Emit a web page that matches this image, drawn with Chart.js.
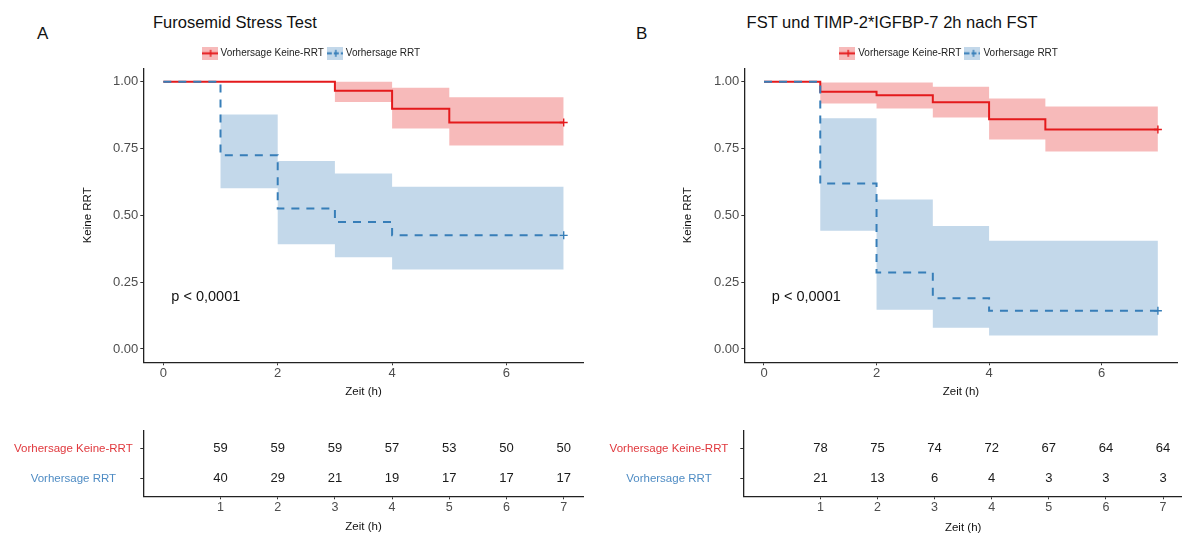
<!DOCTYPE html>
<html><head><meta charset="utf-8">
<script src="https://cdn.jsdelivr.net/npm/chart.js@4.4.1/dist/chart.umd.min.js"></script>
<style>
html,body{margin:0;padding:0;background:#fff;}
body{width:1182px;height:536px;overflow:hidden;position:relative;font-family:"Liberation Sans",Arial,Helvetica,sans-serif;}
canvas{position:absolute;}
.t{position:absolute;white-space:nowrap;color:#111;}
</style></head><body>
<div class="t" style="left:37px;top:24.7px;font-size:17px;line-height:17px">A</div>
<div class="t" style="left:153px;top:13.8px;font-size:16.5px;line-height:16.5px">Furosemid Stress Test</div>
<div class="t" style="left:636px;top:24.7px;font-size:17px;line-height:17px">B</div>
<div class="t" style="left:746.6px;top:13.8px;font-size:16.5px;line-height:16.5px">FST und TIMP-2*IGFBP-7 2h nach FST</div>
<canvas id="kmA" width="562" height="372" style="left:38px;top:36px"></canvas>
<canvas id="kmB" width="545" height="372" style="left:638px;top:36px"></canvas>
<canvas id="rtA" width="600" height="120" style="left:0px;top:416px"></canvas>
<canvas id="rtB" width="583" height="124" style="left:600px;top:412px"></canvas>
<script>
// ---------- data ----------
const xTicksKM = [0, 2, 4, 6];
const yTicksKM = [0, 0.25, 0.5, 0.75, 1];
const legendLabels = ['Vorhersage Keine-RRT', 'Vorhersage RRT'];
const pText = 'p < 0,0001';

// Panel A
const timesKeineA = [0, 3, 4, 5, 7];
const survKeineA  = [1, 0.966, 0.899, 0.847, 0.847];
const upperKeineA = [1, 1, 0.977, 0.942, 0.942];
const lowerKeineA = [1, 0.924, 0.825, 0.761, 0.761];
const timesRRTA = [0, 1, 2, 3, 4, 7];
const survRRTA  = [1, 0.725, 0.525, 0.475, 0.425, 0.425];
const upperRRTA = [1, 0.877, 0.703, 0.656, 0.607, 0.607];
const lowerRRTA = [1, 0.601, 0.392, 0.343, 0.297, 0.297];

// Panel B
const timesKeineB = [0, 1, 2, 3, 4, 5, 7];
const survKeineB  = [1, 0.962, 0.949, 0.923, 0.859, 0.821, 0.821];
const upperKeineB = [1, 0.997, 0.997, 0.981, 0.937, 0.907, 0.907];
const lowerKeineB = [1, 0.918, 0.900, 0.866, 0.784, 0.739, 0.739];
const timesRRTB = [0, 1, 2, 3, 4, 7];
const survRRTB  = [1, 0.619, 0.286, 0.190, 0.143, 0.143];
const upperRRTB = [1, 0.863, 0.559, 0.460, 0.405, 0.405];
const lowerRRTB = [1, 0.442, 0.147, 0.079, 0.050, 0.050];

// Risk tables
const riskTimes = [1, 2, 3, 4, 5, 6, 7];
const riskRowLabels = ['Vorhersage Keine-RRT', 'Vorhersage RRT'];
const riskKeineA = [59, 59, 59, 57, 53, 50, 50];
const riskRRTA   = [40, 29, 21, 19, 17, 17, 17];
const riskKeineB = [78, 75, 74, 72, 67, 64, 64];
const riskRRTB   = [21, 13, 6, 4, 3, 3, 3];

// ---------- styles ----------
const FONT = '"Liberation Sans", Arial, Helvetica, sans-serif';
Chart.defaults.font.family = FONT;
const RED = '#E41A1C', BLUE = '#377EB8';
const RED_BAND = 'rgba(228,26,28,0.3)', BLUE_BAND = 'rgba(55,126,184,0.3)';
const RED_TXT = '#e0383d', BLUE_TXT = '#4f8cc4';

function legendIcon(fill, stroke, dashed) {
  const c = document.createElement('canvas');
  c.width = 16; c.height = 13;
  const g = c.getContext('2d');
  g.fillStyle = fill; g.fillRect(0, 0, 16, 13);
  g.strokeStyle = stroke; g.lineWidth = 2;
  if (dashed) g.setLineDash([5, 2]);
  g.beginPath(); g.moveTo(0, 6.5); g.lineTo(16, 6.5); g.stroke();
  g.setLineDash([]); g.lineWidth = 1.4;
  g.beginPath(); g.moveTo(9, 3); g.lineTo(9, 10); g.stroke();
  return c;
}
const icons = [legendIcon(RED_BAND, RED, false), legendIcon(BLUE_BAND, BLUE, true)];

const pts = (t, v) => t.map((x, i) => ({x, y: v[i]}));
const censor = c => (c.dataIndex === c.dataset.data.length - 1 ? 4 : 0);

function axisLook() {
  return {
    grid: {display: true, drawOnChartArea: false, drawTicks: true, tickLength: 3, color: '#333', lineWidth: 1},
    border: {display: true, color: '#222', width: 1.3}
  };
}

const legendShift = {
  id: 'legendShift',
  afterLayout(chart, args, o) {
    if (chart.legend && o && o.dx) { chart.legend.left += o.dx; chart.legend.right += o.dx; }
  }
};
const pLabel = {
  id: 'pLabel',
  afterDatasetsDraw(chart, args, o) {
    if (!o || !o.text) return;
    const {ctx, scales: {x, y}} = chart;
    ctx.save();
    ctx.font = o.size + 'px ' + FONT;
    ctx.fillStyle = '#111'; ctx.textAlign = 'left'; ctx.textBaseline = 'middle';
    ctx.fillText(o.text, x.getPixelForValue(o.x), y.getPixelForValue(o.y));
    ctx.restore();
  }
};
const riskText = {
  id: 'riskText',
  afterDatasetsDraw(chart) {
    const ctx = chart.ctx;
    ctx.save();
    ctx.font = '13px ' + FONT; ctx.fillStyle = '#1a1a1a';
    ctx.textAlign = 'center'; ctx.textBaseline = 'middle';
    chart.data.datasets.forEach((ds, i) => {
      chart.getDatasetMeta(i).data.forEach((el, j) => ctx.fillText(String(ds.data[j].n), el.x, el.y));
    });
    ctx.restore();
  }
};

function kmChart(id, d, g) {
  const band = {borderColor: 'transparent', borderWidth: 0, stepped: true, pointRadius: 0, order: 2};
  return new Chart(document.getElementById(id), {
    type: 'line',
    data: {datasets: [
      {label: legendLabels[1], data: pts(d.tR, d.sR), borderColor: BLUE, borderWidth: 2, borderDash: [8, 7],
       stepped: true, fill: false, pointStyle: 'cross', pointRadius: censor, pointBorderColor: BLUE, pointBorderWidth: 1.4, order: 0},
      {label: legendLabels[0], data: pts(d.tK, d.sK), borderColor: RED, borderWidth: 2,
       stepped: true, fill: false, pointStyle: 'cross', pointRadius: censor, pointBorderColor: RED, pointBorderWidth: 1.4, order: 1},
      Object.assign({data: pts(d.tK, d.uK), backgroundColor: RED_BAND, fill: '+1'}, band),
      Object.assign({data: pts(d.tK, d.lK), fill: false}, band),
      Object.assign({data: pts(d.tR, d.uR), backgroundColor: BLUE_BAND, fill: '+1'}, band),
      Object.assign({data: pts(d.tR, d.lR), fill: false}, band)
    ]},
    options: {
      responsive: false, animation: false, events: [],
      layout: {padding: {top: g.padTop, right: g.padRight, left: 0, bottom: 0}},
      plugins: {
        tooltip: {enabled: false},
        legend: {
          display: true, position: 'top',
          labels: {
            usePointStyle: true, pointStyleWidth: 12, boxHeight: 10, padding: 5,
            font: {size: 10}, color: '#222',
            generateLabels: () => legendLabels.map((txt, i) => ({
              text: txt, pointStyle: icons[i], fillStyle: 'transparent', strokeStyle: 'transparent',
              lineWidth: 0, hidden: false, datasetIndex: 1 - i, fontColor: '#222'
            }))
          }
        },
        legendShift: {dx: g.legendDx},
        pLabel: {text: pText, x: 0.14, y: 0.195, size: 14.5}
      },
      scales: {
        x: Object.assign({
          type: 'linear', min: -0.35, max: 7.35,
          afterBuildTicks: s => { s.ticks = xTicksKM.map(v => ({value: v})); },
          afterFit: s => { s.height = g.xH; },
          ticks: {font: {size: 13}, color: '#4d4d4d', padding: 0, callback: v => String(v)},
          title: {display: true, text: 'Zeit (h)', font: {size: 11.5}, color: '#111', padding: {top: 0, bottom: g.xTitlePad}}
        }, axisLook()),
        y: Object.assign({
          type: 'linear', min: -0.05, max: 1.05,
          afterBuildTicks: s => { s.ticks = yTicksKM.map(v => ({value: v})); },
          afterFit: s => { s.width = g.yW; },
          ticks: {font: {size: 13}, color: '#4d4d4d', padding: 2, callback: v => Number(v).toFixed(2)},
          title: {display: true, text: 'Keine RRT', font: {size: 11.5}, color: '#111', padding: {top: g.yTitlePad, bottom: 0}}
        }, axisLook())
      }
    },
    plugins: [legendShift, pLabel]
  });
}

function riskChart(id, keine, rrt, g) {
  return new Chart(document.getElementById(id), {
    type: 'scatter',
    data: {datasets: [
      {data: riskTimes.map((t, i) => ({x: t, y: 2, n: keine[i]})), pointRadius: 0},
      {data: riskTimes.map((t, i) => ({x: t, y: 1, n: rrt[i]})), pointRadius: 0}
    ]},
    options: {
      responsive: false, animation: false, events: [],
      layout: {padding: {top: 0, right: g.padRight, left: 0, bottom: 0}},
      plugins: {legend: {display: false}, tooltip: {enabled: false}},
      scales: {
        x: Object.assign({
          type: 'linear', min: -0.35, max: 7.35,
          afterBuildTicks: s => { s.ticks = riskTimes.map(v => ({value: v})); },
          afterFit: s => { s.height = g.xH; },
          ticks: {font: {size: 12.5}, color: '#4d4d4d', padding: 0.5, callback: v => String(v)},
          title: {display: true, text: 'Zeit (h)', font: {size: 11.5}, color: '#111', padding: {top: 0, bottom: g.xTitlePad}}
        }, axisLook()),
        y: Object.assign({
          type: 'linear', min: 0.42, max: 2.6,
          afterBuildTicks: s => { s.ticks = [{value: 1}, {value: 2}]; },
          afterFit: s => { s.width = g.yW; },
          ticks: {font: {size: 11.5}, padding: g.yTickPad, crossAlign: 'center',
                  color: c => (c.tick && c.tick.value === 2 ? RED_TXT : BLUE_TXT),
                  callback: v => riskRowLabels[2 - v]}
        }, axisLook())
      }
    },
    plugins: [riskText]
  });
}

kmChart('kmA',
  {tK: timesKeineA, sK: survKeineA, uK: upperKeineA, lK: lowerKeineA,
   tR: timesRRTA, sR: survRRTA, uR: upperRRTA, lR: lowerRRTA},
  {padTop: 7.3, padRight: 16.3, xH: 45.7, yW: 105.3, xTitlePad: 9.1, yTitlePad: 43.4, legendDx: 1});
kmChart('kmB',
  {tK: timesKeineB, sK: survKeineB, uK: upperKeineB, lK: lowerKeineB,
   tR: timesRRTB, sR: survRRTB, uR: upperRRTB, lR: lowerRRTB},
  {padTop: 7.3, padRight: 0, xH: 45.7, yW: 106.3, xTitlePad: 9.1, yTitlePad: 43.1, legendDx: 39});
riskChart('rtA', riskKeineA, riskRRTA, {padRight: 16.3, xH: 39.7, yW: 143.3, xTitlePad: 2.4, yTickPad: 7.6});
riskChart('rtB', riskKeineB, riskRRTB, {padRight: 0, xH: 39.7, yW: 143.3, xTitlePad: 1.1, yTickPad: 12});
</script>
</body></html>
